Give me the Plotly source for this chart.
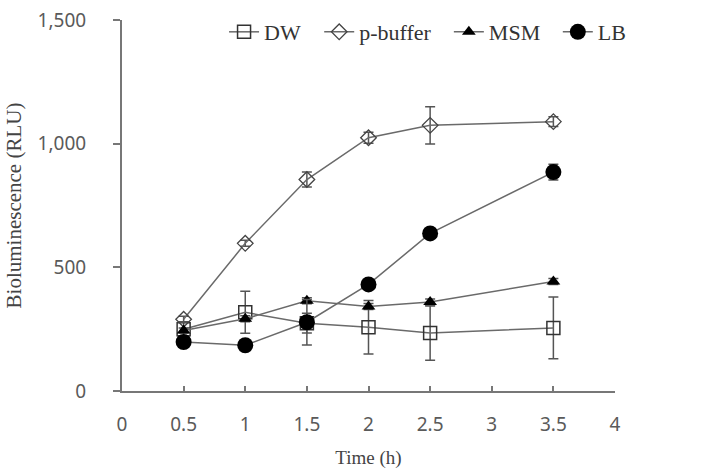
import plotly.graph_objects as go

time_h = [0.5, 1, 1.5, 2, 2.5, 3.5]

dw = [250, 318, 274, 258, 234, 255]
dw_err = [30, 85, 40, 108, 110, 125]

pbuf = [290, 597, 855, 1024, 1074, 1089]
pbuf_err = [12, 12, 30, 22, 75, 20]

msm = [245, 292, 365, 342, 360, 443]
msm_err = [10, 12, 12, 12, 12, 12]

lb = [198, 185, 278, 431, 637, 885]
lb_err = [10, 10, 92, 10, 12, 32]

y_ticks = [0, 500, 1000, 1500]
x_ticks = [0, 0.5, 1, 1.5, 2, 2.5, 3, 3.5, 4]

line_col = "#6a6a6a"
err_col = "#555555"

def err(vals):
    return dict(type="data", array=vals, visible=True, color=err_col, thickness=1.5, width=5)

fig = go.Figure()
fig.add_trace(go.Scatter(x=time_h, y=dw, name="DW", mode="lines+markers", legend="legend",
                         line=dict(color=line_col, width=1.5),
                         marker=dict(symbol="square-open", size=13, color="#333333", line=dict(width=1.5)),
                         error_y=err(dw_err)))
fig.add_trace(go.Scatter(x=time_h, y=pbuf, name="p-buffer", mode="lines+markers", legend="legend2",
                         line=dict(color=line_col, width=1.5),
                         marker=dict(symbol="diamond-open", size=12, color="#444444", line=dict(width=1.3)),
                         error_y=err(pbuf_err)))
fig.add_trace(go.Scatter(x=time_h, y=msm, name="MSM", mode="lines+markers", legend="legend3",
                         line=dict(color=line_col, width=1.5),
                         marker=dict(symbol="triangle-up", size=12, color="#000000"),
                         error_y=err(msm_err)))
fig.add_trace(go.Scatter(x=time_h, y=lb, name="LB", mode="lines+markers", legend="legend4",
                         line=dict(color=line_col, width=1.5),
                         marker=dict(symbol="circle", size=16, color="#000000"),
                         error_y=err(lb_err)))

leg_font = dict(family="Liberation Serif", size=22, color="#333333")
def leg(xpos):
    return dict(orientation="h", x=xpos, y=0.965, xanchor="left", yanchor="middle",
                font=leg_font, bgcolor="rgba(0,0,0,0)", itemwidth=30)

fig.update_layout(
    width=702, height=469,
    margin=dict(l=122, r=87, t=19, b=78),
    paper_bgcolor="white", plot_bgcolor="white",
    showlegend=True,
    legend=leg(0.207), legend2=leg(0.400), legend3=leg(0.663), legend4=leg(0.884),
    xaxis=dict(range=[0, 4], tickvals=x_ticks, ticktext=[str(v) for v in x_ticks],
               automargin=False,
               showgrid=False, zeroline=False, showline=True, linecolor="#777777", linewidth=2,
               ticks="inside", ticklen=5, tickcolor="#777777", tickwidth=1.5,
               ticklabelstandoff=15,
               tickfont=dict(family="Noto Sans", size=19, color="#5a5a5a"),
               title=dict(text="Time (h)", font=dict(family="Liberation Serif", size=19, color="#444444"), standoff=19)),
    yaxis=dict(range=[0, 1500], tickvals=y_ticks, tickformat=",",
               automargin=False,
               showgrid=False, zeroline=False, showline=True, linecolor="#777777", linewidth=2,
               ticks="outside", ticklen=7, tickcolor="#777777", tickwidth=1.5,
               ticklabelstandoff=23,
               tickfont=dict(family="Noto Sans", size=19, color="#5a5a5a"),
               title=dict(text="Bioluminescence (RLU)", font=dict(family="Liberation Serif", size=21, color="#444444"), standoff=10)),
)

fig.write_html("out.html")
